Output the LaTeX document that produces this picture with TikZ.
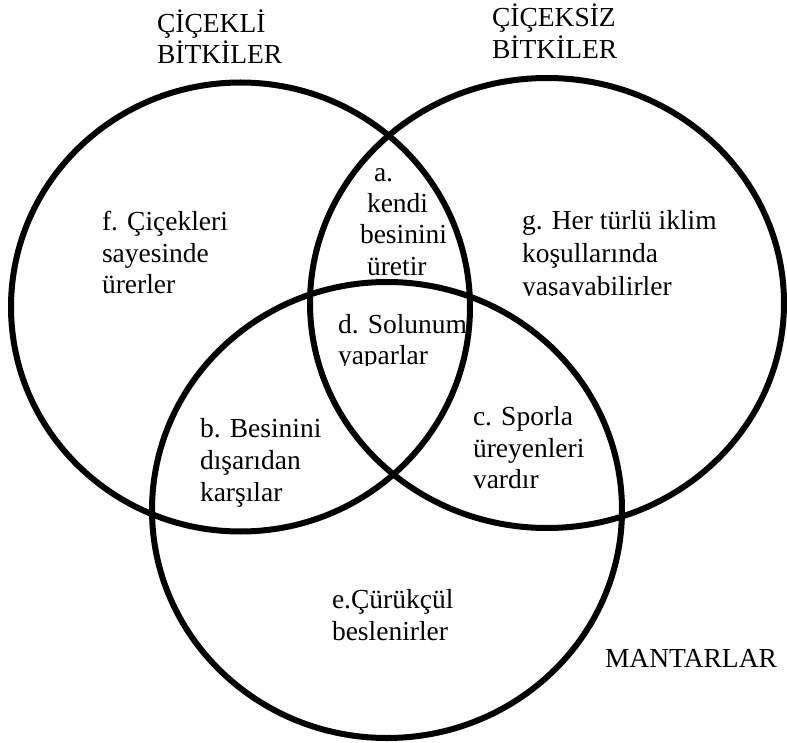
\documentclass[tikz,border=0pt]{standalone}
\usepackage{fontspec}
\setmainfont{Liberation Serif}
\begin{document}
\begin{tikzpicture}[x=1pt,y=-1pt,
  ring/.style={draw=black, line width=6pt},
  lbl/.style={anchor=base west, inner sep=0pt, outer sep=0pt,
              font=\fontsize{27.5}{31.5}\selectfont}]
\useasboundingbox (0,0) rectangle (787,743);

% the three sets
\draw[ring] (240.5,307) ellipse [x radius=229.5, y radius=224.5];
\draw[ring] (547,303) ellipse [x radius=237, y radius=225];
\draw[ring] (387,510) ellipse [x radius=235, y radius=228];

% set titles
\node[lbl] (t1a) at (157,33) {ÇİÇEKLİ};
\node[lbl] (t1b) at (157,64) {BİTKİLER};
\node[lbl] (t2a) at (492,27) {ÇİÇEKSİZ};
\node[lbl] (t2b) at (492,59) {BİTKİLER};
\node[lbl] (t3) at (605,667) {MANTARLAR};

% flowering plants only
\node[lbl] (f1) at (102,231) {f. Çiçekleri};
\node[lbl] (f2) at (102,263) {sayesinde};
\node[lbl] (f3) at (102,294) {ürerler};

% both plant groups
\node[lbl] (a1) at (374,182) {a.};
\node[lbl] (a2) at (367,213) {kendi};
\node[lbl] (a3) at (360,244) {besinini};
\node[lbl] (a4) at (367,276) {üretir};

% all three groups
\node[lbl] (d1) at (338,334) {d. Solunum};
\begin{scope}
  \clip (330,336) rectangle (460,365);
  \node[lbl] (d2) at (338,364) {yaparlar};
\end{scope}

% non-flowering plants only
\node[lbl] (g1) at (522,230) {g. Her türlü iklim};
\node[lbl] (g2) at (522,263) {koşullarında};
\begin{scope}
  \clip (515,266) rectangle (700,296);
  \node[lbl] (g3) at (522,295) {yaşayabilirler};
\end{scope}

% flowering plants and fungi
\node[lbl] (b1) at (200,437) {b. Besinini};
\node[lbl] (b2) at (200,469) {dışarıdan};
\node[lbl] (b3) at (200,501) {karşılar};

% non-flowering plants and fungi
\node[lbl] (c1) at (473,425) {c. Sporla};
\node[lbl] (c2) at (473,457) {üreyenleri};
\node[lbl] (c3) at (473,488) {vardır};

% fungi only
\node[lbl] (e1) at (332,608) {e.Çürükçül};
\node[lbl] (e2) at (332,640) {beslenirler};
\end{tikzpicture}
\end{document}
